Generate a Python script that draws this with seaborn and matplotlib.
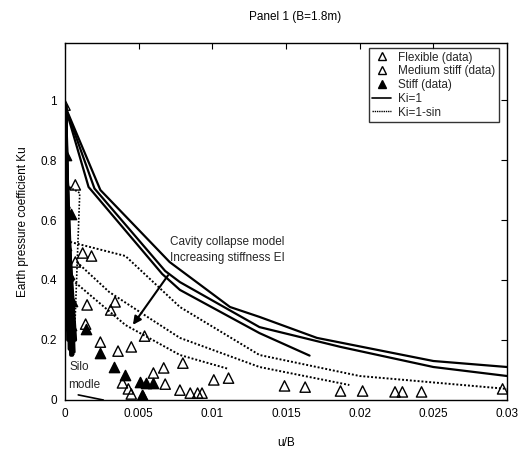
import matplotlib
matplotlib.use("Agg")
import matplotlib.pyplot as plt
from matplotlib.lines import Line2D
import seaborn as sns
import numpy as np
import pandas as pd

# ---------------- data ----------------
flex_x = [0.0080, 0.0078, 0.0085, 0.0090, 0.0093, 0.0101, 0.0111, 0.0149, 0.0163,
          0.0187, 0.0202, 0.0224, 0.0229, 0.0242, 0.0297, 0.0068, 0.0067, 0.0060]
flex_y = [0.123, 0.033, 0.023, 0.023, 0.023, 0.067, 0.073, 0.047, 0.043,
          0.030, 0.030, 0.027, 0.027, 0.027, 0.037, 0.053, 0.107, 0.090]
med_x = [0.0000, 0.0000, 0.0007, 0.0000, 0.0000, 0.0012, 0.0018, 0.0007, 0.0015,
         0.0034, 0.0031, 0.0014, 0.0024, 0.0036, 0.0045, 0.0054, 0.0039, 0.0043,
         0.0045, 0.0053]
med_y = [0.983, 0.720, 0.717, 0.657, 0.537, 0.490, 0.480, 0.460, 0.317,
         0.327, 0.300, 0.253, 0.193, 0.163, 0.177, 0.213, 0.057, 0.037,
         0.020, 0.013]
stiff_x = [0.0001, 0.0001, 0.0004, 0.0003, 0.0005, 0.0004, 0.0014, 0.0024, 0.0033,
           0.0041, 0.0051, 0.0055, 0.0060, 0.0052]
stiff_y = [0.817, 0.517, 0.62, 0.42, 0.33, 0.25, 0.237, 0.157, 0.110,
           0.083, 0.060, 0.057, 0.057, 0.017]

# cavity collapse model, Ki=1 (solid)
s1_x = [0.0, 0.0024, 0.0071, 0.0112, 0.0132, 0.0171, 0.0250, 0.0300]
s1_y = [0.98, 0.70, 0.46, 0.31, 0.277, 0.207, 0.130, 0.110]
s2_x = [0.0, 0.0020, 0.0068, 0.0078, 0.0132, 0.0187, 0.0250, 0.0300]
s2_y = [0.98, 0.705, 0.43, 0.393, 0.243, 0.177, 0.110, 0.080]
s3_x = [0.0, 0.0016, 0.0066, 0.0078, 0.0132, 0.0166]
s3_y = [0.98, 0.71, 0.42, 0.367, 0.223, 0.148]

# cavity collapse model, Ki=1-sin (dotted)
d1_x = [0.0001, 0.0041, 0.0078, 0.0132, 0.0200, 0.0300]
d1_y = [0.530, 0.480, 0.310, 0.150, 0.080, 0.037]
d2_x = [0.0008, 0.0030, 0.0055, 0.0078, 0.0132, 0.0193]
d2_y = [0.460, 0.360, 0.280, 0.207, 0.110, 0.050]
d3_x = [0.0005, 0.0041, 0.0078, 0.0110]
d3_y = [0.400, 0.250, 0.150, 0.105]

# silo model
silo_x_end = [0.0001, 0.0002, 0.0003, 0.0004, 0.0005, 0.0006, 0.0007]
silo_y_top = [0.98, 0.98, 0.98, 0.95, 0.90, 0.85, 0.70]
silo_y_bot = [0.25, 0.20, 0.17, 0.15, 0.15, 0.16, 0.20]
silo_dot_x = [0.0003, 0.0010, 0.0006]
silo_dot_y = [0.710, 0.690, 0.150]
silo_low_x = [0.0009, 0.0026]
silo_low_y = [0.017, 0.000]

xticks = [0, 0.005, 0.01, 0.015, 0.02, 0.025, 0.03]
xticklabels = ["0", "0.005", "0.01", "0.015", "0.02", "0.025", "0.03"]
yticks = [0, 0.2, 0.4, 0.6, 0.8, 1.0]
yticklabels = ["0", "0.2", "0.4", "0.6", "0.8", "1"]

# ---------------- plot ----------------
sns.set_theme(style="white")
plt.rcParams["font.family"] = ["Liberation Sans", "DejaVu Sans"]
plt.rcParams["xtick.direction"] = "in"
plt.rcParams["ytick.direction"] = "in"

fig = plt.figure(figsize=(5.25, 4.49), dpi=100)
ax = fig.add_axes([65 / 525, 1 - 400 / 449, 442 / 525, 357 / 449])

def line(xs, ys, **kw):
    df = pd.DataFrame({"x": xs, "y": ys})
    sns.lineplot(data=df, x="x", y="y", sort=False, estimator=None, ax=ax,
                 legend=False, color="black", **kw)

for xs, ys in [(s1_x, s1_y), (s2_x, s2_y), (s3_x, s3_y)]:
    line(xs, ys, linewidth=1.6)
for xs, ys in [(d1_x, d1_y), (d2_x, d2_y), (d3_x, d3_y)]:
    line(xs, ys, linewidth=1.4, linestyle=(0, (1, 1)))

for xe, yt, yb in zip(silo_x_end, silo_y_top, silo_y_bot):
    line([0.00005, xe], [yt, yb], linewidth=2.6)
line(silo_dot_x, silo_dot_y, linewidth=1.2, linestyle=(0, (1, 1)))
line(silo_low_x, silo_low_y, linewidth=1.2)

sns.scatterplot(x=flex_x, y=flex_y, marker="^", s=55, facecolor="none",
                edgecolor="black", linewidth=1.0, ax=ax, legend=False, zorder=3)
sns.scatterplot(x=med_x, y=med_y, marker="^", s=55, facecolor="none",
                edgecolor="black", linewidth=1.0, ax=ax, legend=False, zorder=3)
sns.scatterplot(x=stiff_x, y=stiff_y, marker="^", s=55, color="black",
                edgecolor="black", linewidth=1.0, ax=ax, legend=False, zorder=3)

ax.set_xlim(0, 0.03)
ax.set_ylim(0, 1.19)
ax.set_xticks(xticks)
ax.set_xticklabels(xticklabels)
ax.set_yticks(yticks)
ax.set_yticklabels(yticklabels)
ax.tick_params(axis="both", which="both", direction="in", length=4, width=0.8,
               top=True, right=True, labelsize=8.5, colors="black", pad=6)
for sp in ax.spines.values():
    sp.set_color("black")
    sp.set_linewidth(1.0)

ax.set_xlabel("u/B", fontsize=8.5, labelpad=12, color="black")
ax.set_ylabel("Earth pressure coefficient Ku", fontsize=8.5, labelpad=8, color="black")
fig.text(295 / 525, 1 - 17 / 449, "Panel 1 (B=1.8m)", ha="center", va="center",
         fontsize=8.5, color="black")

ax.annotate("", xy=(0.0045, 0.243), xytext=(0.0071, 0.423),
            arrowprops=dict(arrowstyle="-|>", color="black", lw=1.5,
                            mutation_scale=12))
ax.text(0.00715, 0.528, "Cavity collapse model", fontsize=8.5, va="center")
ax.text(0.00715, 0.475, "Increasing stiffness EI", fontsize=8.5, va="center")
ax.text(0.0003, 0.11, "Silo", fontsize=8.5, va="center")
ax.text(0.0002, 0.05, "modle", fontsize=8.5, va="center")

handles = [
    Line2D([], [], marker="^", linestyle="none", markerfacecolor="none",
           markeredgecolor="black", markersize=6),
    Line2D([], [], marker="^", linestyle="none", markerfacecolor="none",
           markeredgecolor="black", markersize=6),
    Line2D([], [], marker="^", linestyle="none", markerfacecolor="black",
           markeredgecolor="black", markersize=6),
    Line2D([], [], color="black", linewidth=1.2),
    Line2D([], [], color="black", linewidth=1.0, linestyle=(0, (1, 0.6))),
]
labels = ["Flexible (data)", "Medium stiff (data)", "Stiff (data)", "Ki=1", "Ki=1-sin"]
leg = ax.legend(handles, labels, loc="upper right", bbox_to_anchor=(0.982, 0.986),
                fontsize=8.5, frameon=True, fancybox=False, edgecolor="black",
                handlelength=1.6, handletextpad=0.6, borderpad=0.3,
                labelspacing=0.15, borderaxespad=0)
leg.get_frame().set_linewidth(1.0)

fig.savefig("out.png", dpi=100, facecolor="white")
